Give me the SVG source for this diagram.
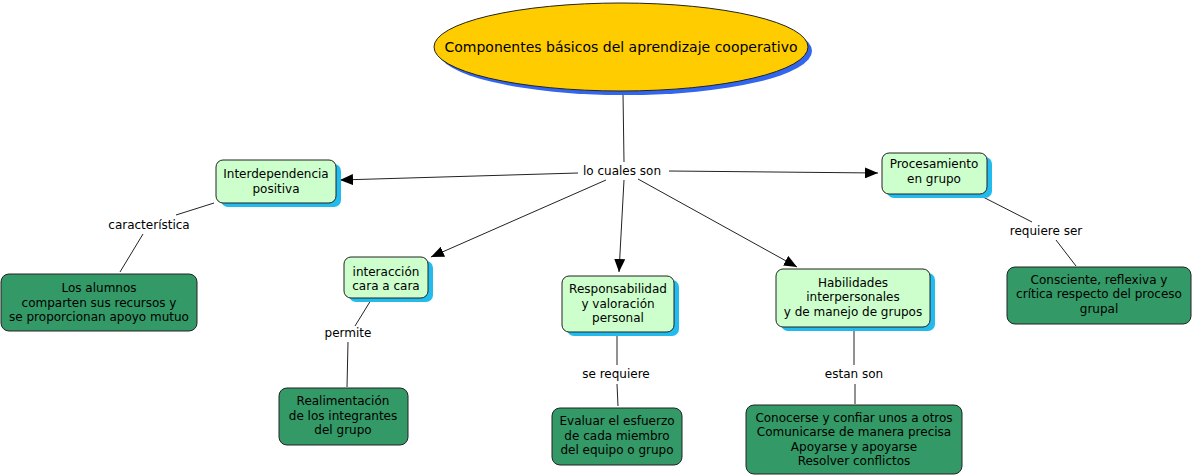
<svg xmlns="http://www.w3.org/2000/svg" width="1194" height="476" viewBox="0 0 1194 476">
<defs>
<style>
text{font-family:"DejaVu Sans","Liberation Sans",sans-serif;font-size:12px;fill:#000;text-anchor:middle}
.lt{fill:#CCFFCC;stroke:#222;stroke-width:1}
.sh{fill:#22BBEE}
.dk{fill:#339966;stroke:#222;stroke-width:1}
.ln{stroke:#222;stroke-width:1;fill:none}
</style>
<marker id="ah" markerUnits="userSpaceOnUse" markerWidth="13" markerHeight="11" refX="13" refY="5.5" orient="auto">
<path d="M0,0 L13,5.5 L0,11 z" fill="#000"/>
</marker>
</defs>
<rect width="1194" height="476" fill="#fff"/>
<g id="connectors">
<line class="ln" x1="623" y1="93" x2="624" y2="162"/>
<line class="ln" x1="578" y1="173" x2="340" y2="180" marker-end="url(#ah)"/>
<line class="ln" x1="606" y1="180" x2="431" y2="257" marker-end="url(#ah)"/>
<line class="ln" x1="624" y1="180" x2="619" y2="272" marker-end="url(#ah)"/>
<line class="ln" x1="638" y1="179" x2="797" y2="267" marker-end="url(#ah)"/>
<line class="ln" x1="669" y1="171" x2="878" y2="173" marker-end="url(#ah)"/>
<line class="ln" x1="214" y1="203" x2="176" y2="215"/>
<line class="ln" x1="143" y1="234" x2="120" y2="272"/>
<line class="ln" x1="371" y1="300" x2="355" y2="326"/>
<line class="ln" x1="348" y1="342" x2="347" y2="387"/>
<line class="ln" x1="617" y1="336" x2="617" y2="365"/>
<line class="ln" x1="617" y1="384" x2="618" y2="406"/>
<line class="ln" x1="854" y1="330" x2="854" y2="365"/>
<line class="ln" x1="855" y1="384" x2="855" y2="404"/>
<line class="ln" x1="983" y1="197" x2="1032" y2="222"/>
<line class="ln" x1="1056" y1="240" x2="1076" y2="266"/>
</g>
<g id="main">
<ellipse cx="625" cy="51" rx="187" ry="44" fill="#3366EE"/>
<ellipse cx="621" cy="47" rx="187" ry="44" fill="#FFCC00" stroke="#222" stroke-width="1"/>
<text x="621" y="52" style="font-size:14px">Componentes básicos del aprendizaje cooperativo</text>
</g>
<g id="label-locuales">
<text x="622" y="175">lo cuales son</text>
</g>
<g id="interdependencia">
<rect class="sh" x="221" y="164" width="120" height="43" rx="7"/>
<rect class="lt" x="216" y="160" width="120" height="43" rx="7"/>
<text x="276" y="178">Interdependencia</text>
<text x="276" y="193">positiva</text>
</g>
<g id="label-caracteristica">
<text x="149" y="229">característica</text>
</g>
<g id="alumnos">
<rect class="dk" x="1" y="274" width="196" height="57" rx="8"/>
<text x="99" y="292">Los alumnos</text>
<text x="99" y="307">comparten sus recursos y</text>
<text x="99" y="321">se proporcionan apoyo mutuo</text>
</g>
<g id="interaccion">
<rect class="sh" x="349" y="261" width="84" height="41" rx="7"/>
<rect class="lt" x="344" y="257" width="84" height="41" rx="7"/>
<text x="386" y="276">interacción</text>
<text x="386" y="290">cara a cara</text>
</g>
<g id="label-permite">
<text x="348" y="337">permite</text>
</g>
<g id="realimentacion">
<rect class="dk" x="279" y="388" width="129" height="57" rx="8"/>
<text x="343" y="405">Realimentación</text>
<text x="343" y="420">de los integrantes</text>
<text x="343" y="434">del grupo</text>
</g>
<g id="responsabilidad">
<rect class="sh" x="567" y="280" width="112" height="56" rx="7"/>
<rect class="lt" x="562" y="276" width="112" height="56" rx="7"/>
<text x="618" y="293">Responsabilidad</text>
<text x="618" y="308">y valoración</text>
<text x="618" y="322">personal</text>
</g>
<g id="label-serequiere">
<text x="616" y="378">se requiere</text>
</g>
<g id="evaluar">
<rect class="dk" x="552" y="408" width="130" height="57" rx="8"/>
<text x="617" y="425">Evaluar el esfuerzo</text>
<text x="617" y="440">de cada miembro</text>
<text x="617" y="454">del equipo o grupo</text>
</g>
<g id="habilidades">
<rect class="sh" x="781" y="273" width="154" height="58" rx="7"/>
<rect class="lt" x="776" y="269" width="154" height="58" rx="7"/>
<text x="853" y="287">Habilidades</text>
<text x="853" y="301">interpersonales</text>
<text x="853" y="316">y de manejo de grupos</text>
</g>
<g id="label-estanson">
<text x="854" y="378">estan son</text>
</g>
<g id="conocerse">
<rect class="dk" x="746" y="405" width="216" height="69" rx="8"/>
<text x="854" y="422">Conocerse y confiar unos a otros</text>
<text x="854" y="436">Comunicarse de manera precisa</text>
<text x="854" y="451">Apoyarse y apoyarse</text>
<text x="854" y="465">Resolver conflictos</text>
</g>
<g id="procesamiento">
<rect class="sh" x="887" y="157" width="105" height="41" rx="7"/>
<rect class="lt" x="882" y="153" width="105" height="41" rx="7"/>
<text x="934" y="168">Procesamiento</text>
<text x="934" y="183">en grupo</text>
</g>
<g id="label-requiereser">
<text x="1046" y="235">requiere ser</text>
</g>
<g id="consciente">
<rect class="dk" x="1007" y="267" width="184" height="57" rx="8"/>
<text x="1099" y="284">Consciente, reflexiva y</text>
<text x="1099" y="298">crítica respecto del proceso</text>
<text x="1099" y="313">grupal</text>
</g>
</svg>
